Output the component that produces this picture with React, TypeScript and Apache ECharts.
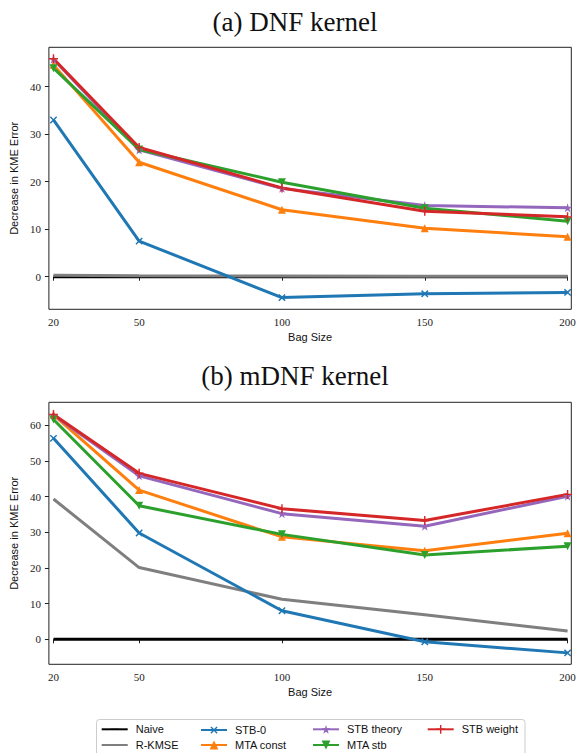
import React, { useEffect, useRef } from "react";
import * as echarts from "echarts";

// ---------- data ----------
const bagSizes = [20, 50, 100, 150, 200];
const xTickValues = [20, 50, 100, 150, 200];
const dnfYTicks = [0, 10, 20, 30, 40];
const mdnfYTicks = [0, 10, 20, 30, 40, 50, 60];

const seriesNames = ["Naive", "R-KMSE", "STB-0", "MTA const", "STB theory", "MTA stb", "STB weight"];

// (a) DNF kernel
const dnfNaive = [0, 0, 0, 0, 0];
const dnfRKMSE = [0.3, 0.2, 0.15, 0.1, 0.1];
const dnfSTB0 = [33.0, 7.5, -4.4, -3.6, -3.3];
const dnfMTAconst = [44.6, 24.1, 14.1, 10.2, 8.4];
const dnfSTBtheory = [45.8, 26.7, 18.6, 15.0, 14.5];
const dnfMTAstb = [43.9, 26.8, 19.9, 14.4, 11.7];
const dnfSTBweight = [45.9, 27.2, 18.7, 13.8, 12.6];

// (b) mDNF kernel
const mdnfNaive = [0, 0, 0, 0, 0];
const mdnfRKMSE = [39.3, 20.1, 11.2, 6.9, 2.3];
const mdnfSTB0 = [56.3, 29.8, 8.0, -0.7, -3.8];
const mdnfMTAconst = [62.9, 41.8, 28.7, 24.8, 29.7];
const mdnfSTBtheory = [62.8, 45.8, 35.2, 31.7, 40.1];
const mdnfMTAstb = [61.6, 37.4, 29.4, 23.6, 26.1];
const mdnfSTBweight = [63.0, 46.5, 36.6, 33.3, 40.6];

// ---------- styles ----------
const PLUS = "path://M4.2,0 L5.8,0 L5.8,4.2 L10,4.2 L10,5.8 L5.8,5.8 L5.8,10 L4.2,10 L4.2,5.8 L0,5.8 L0,4.2 L4.2,4.2 Z";
const STAR = "path://M5,0 L6.18,3.62 L10,3.62 L6.91,5.86 L8.09,9.5 L5,7.26 L1.91,9.5 L3.09,5.86 L0,3.62 L3.82,3.62 Z";
const TRI_UP = "path://M5,0 L10,9 L0,9 Z";
const TRI_DOWN = "path://M0,0 L10,0 L5,9 Z";
// line-only marker (used only by the legend icon; hidden inside the legend line)
const BAR = "path://M0,0 L0.01,0 L0.01,0.01 Z M9.99,9.99 L10,9.99 L10,10 Z M0,4.4 L10,4.4 L10,5.6 L0,5.6 Z";

const styleMap: Record<string, any> = {
  "Naive": { color: "#000000", symbol: BAR, show: false },
  "R-KMSE": { color: "#7f7f7f", symbol: BAR, show: false },
  "STB-0": { color: "#1f77b4", symbol: PLUS, rotate: 45, size: 9, show: true },
  "MTA const": { color: "#ff7f0e", symbol: TRI_UP, rotate: 0, size: 8, show: true },
  "STB theory": { color: "#9467bd", symbol: STAR, rotate: 0, size: 9, show: true },
  "MTA stb": { color: "#2ca02c", symbol: TRI_DOWN, rotate: 0, size: 8, show: true },
  "STB weight": { color: "#d62728", symbol: PLUS, rotate: 0, size: 9, show: true },
};

const dnfSets = [dnfNaive, dnfRKMSE, dnfSTB0, dnfMTAconst, dnfSTBtheory, dnfMTAstb, dnfSTBweight];
const mdnfSets = [mdnfNaive, mdnfRKMSE, mdnfSTB0, mdnfMTAconst, mdnfSTBtheory, mdnfMTAstb, mdnfSTBweight];

const SERIF = "'Liberation Serif', 'Times New Roman', serif";
const SANS = "'Liberation Sans', Arial, sans-serif";

function makeSeries(name: string, values: number[], idx: number) {
  const s = styleMap[name];
  return {
    type: "line",
    name,
    xAxisIndex: idx,
    yAxisIndex: idx,
    data: bagSizes.map((x, i) => [x, values[i]]),
    symbol: s.symbol,
    symbolSize: s.size || 8,
    symbolRotate: s.rotate || 0,
    showSymbol: s.show,
    lineStyle: { color: s.color, width: 3 },
    itemStyle: { color: s.color, borderWidth: 0 },
    emphasis: { disabled: true },
    clip: false,
  };
}

function makeXAxis(idx: number) {
  return {
    type: "value",
    gridIndex: idx,
    min: 18.4,
    max: 201.3,
    name: "Bag Size",
    nameLocation: "middle",
    nameGap: 22,
    nameTextStyle: { fontFamily: SANS, fontSize: 11, color: "#111" },
    axisLine: { show: false },
    axisTick: { show: true, length: 4, inside: false, customValues: xTickValues, lineStyle: { color: "#222", width: 1 } },
    axisLabel: { show: true, margin: 7, customValues: xTickValues, fontFamily: SERIF, fontSize: 11, color: "#222" },
    splitLine: { show: false },
  };
}

function makeYAxis(idx: number, min: number, max: number, ticks: number[]) {
  return {
    type: "value",
    gridIndex: idx,
    min,
    max,
    name: "Decrease in KME Error",
    nameLocation: "middle",
    nameGap: 27,
    nameRotate: 90,
    nameTextStyle: { fontFamily: SANS, fontSize: 11, color: "#111" },
    axisLine: { show: false },
    axisTick: { show: true, length: 4, inside: false, customValues: ticks, lineStyle: { color: "#222", width: 1 } },
    axisLabel: { show: true, margin: 8, customValues: ticks, fontFamily: SERIF, fontSize: 11, color: "#222" },
    splitLine: { show: false },
  };
}

const legendLayout: Record<string, [number, number]> = {
  "Naive": [100.7, 723.8],
  "R-KMSE": [100.7, 739.5],
  "STB-0": [200, 723.8],
  "MTA const": [200, 739.5],
  "STB theory": [312, 723.8],
  "MTA stb": [312, 739.5],
  "STB weight": [426.7, 723.8],
};

export default function App() {
  const ref = useRef<HTMLDivElement>(null);
  useEffect(() => {
    document.body.style.margin = "0";
    const chart = echarts.init(ref.current!, null, { renderer: "svg" });

    const series: any[] = [];
    seriesNames.forEach((n, i) => series.push(makeSeries(n, dnfSets[i], 0)));
    seriesNames.forEach((n, i) => series.push(makeSeries(n, mdnfSets[i], 1)));

    const legends = seriesNames.map((n) => ({
      data: [n],
      left: legendLayout[n][0],
      top: legendLayout[n][1],
      orient: "horizontal",
      padding: 0,
      itemWidth: 26,
      itemHeight: 11,
      itemGap: 0,
      selectedMode: false,
      textStyle: { fontFamily: SANS, fontSize: 11, color: "#111", padding: [0, 0, 0, 3] },
    }));

    const option: any = {
      animation: false,
      backgroundColor: "#ffffff",
      grid: [
        { left: 45.7, top: 47.3, width: 525.6, height: 262, show: true, borderColor: "#222", borderWidth: 1, backgroundColor: "transparent", containLabel: false },
        { left: 45.7, top: 402.3, width: 525.6, height: 262, show: true, borderColor: "#222", borderWidth: 1, backgroundColor: "transparent", containLabel: false },
      ],
      xAxis: [makeXAxis(0), makeXAxis(1)],
      yAxis: [makeYAxis(0, -6.86, 48.3, dnfYTicks), makeYAxis(1, -7.0, 66.4, mdnfYTicks)],
      legend: legends,
      series,
      graphic: [
        {
          type: "text",
          x: 295,
          y: 22,
          style: { text: "(a) DNF kernel", font: `27px ${SERIF}`, fill: "#111", textAlign: "center", textVerticalAlign: "middle" },
        },
        {
          type: "text",
          x: 295,
          y: 376,
          style: { text: "(b) mDNF kernel", font: `27px ${SERIF}`, fill: "#111", textAlign: "center", textVerticalAlign: "middle" },
        },
        {
          type: "rect",
          shape: { x: 96.5, y: 719.5, width: 428.5, height: 50, r: 3 },
          style: { fill: "rgba(255,255,255,0.8)", stroke: "#cccccc", lineWidth: 1 },
          z: -1,
        },
      ],
    };
    chart.setOption(option);
    return () => chart.dispose();
  }, []);
  return <div ref={ref} style={{ width: 579, height: 753 }} />;
}
